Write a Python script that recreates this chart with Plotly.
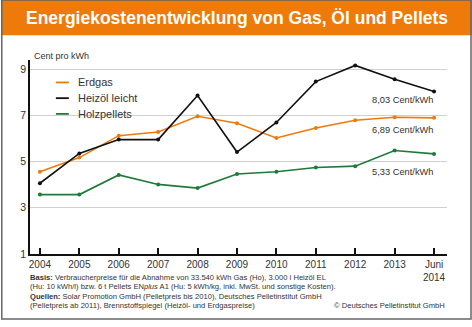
import plotly.graph_objects as go

years = ["2004", "2005", "2006", "2007", "2008", "2009", "2010", "2011", "2012", "2013", "Juni<br>2014"]
erdgas = [4.56, 5.17, 6.12, 6.28, 6.96, 6.66, 6.02, 6.45, 6.79, 6.92, 6.89]
heizoel = [4.06, 5.35, 5.95, 5.95, 7.86, 5.41, 6.69, 8.46, 9.16, 8.56, 8.03]
pellets = [3.57, 3.57, 4.42, 4.01, 3.85, 4.46, 4.56, 4.74, 4.80, 5.48, 5.33]
series_names = ["Erdgas", "Heizöl leicht", "Holzpellets"]
end_labels = ["6,89 Cent/kWh", "8,03 Cent/kWh", "5,33 Cent/kWh"]
y_ticks = [1, 3, 5, 7, 9]

W, H = 472, 327
ORANGE = "#EE7A0A"
BLACK = "#111111"
GREEN = "#1F7A3A"
TXT = "#333333"
FONT = "Liberation Sans, Arial, sans-serif"

def px(x):
    return x / W

def py(y):
    return 1 - y / H

xs = list(range(len(years)))
fig = go.Figure()
for vals, col in [(pellets, GREEN), (erdgas, ORANGE), (heizoel, BLACK)]:
    fig.add_trace(go.Scatter(x=xs, y=vals, mode="lines+markers",
                             line=dict(color=col, width=1.6),
                             marker=dict(color=col, size=4), showlegend=False,
                             hoverinfo="skip"))

fig.update_layout(
    width=W, height=H, margin=dict(l=0, r=0, t=0, b=0),
    paper_bgcolor="white", plot_bgcolor="white",
    font=dict(family=FONT, color=TXT),
    xaxis=dict(domain=[px(29), px(447)], range=[-0.253, 10.33],
               tickvals=xs, ticktext=years, ticks="inside", ticklen=6,
               tickcolor=BLACK, tickwidth=1.5,
               showline=True, linecolor=BLACK, linewidth=1.5, showgrid=False,
               zeroline=False, tickfont=dict(size=10, color=TXT, family=FONT)),
    yaxis=dict(domain=[py(258.7), py(61)], range=[1, 9.4],
               tickvals=y_ticks, ticks="", showline=True, linecolor=BLACK,
               linewidth=1.5, showgrid=True, gridcolor="#d0d0d0", gridwidth=1,
               zeroline=False, tickfont=dict(size=10.5, color=TXT, family=FONT)),
)

shapes = []
annots = []
# title banner
shapes.append(dict(type="rect", xref="paper", yref="paper", x0=0, x1=1,
                   y0=py(36), y1=1, fillcolor=ORANGE, line=dict(width=0), layer="below"))
# frame
shapes.append(dict(type="rect", xref="paper", yref="paper", x0=px(0.8), x1=px(471),
                   y0=py(325), y1=py(0), fillcolor="rgba(0,0,0,0)",
                   line=dict(color="#666666", width=1.5)))
annots.append(dict(xref="paper", yref="paper", x=px(236), y=py(18),
                   text="<b>Energiekostenentwicklung von Gas, Öl und Pellets</b>",
                   showarrow=False, xanchor="center", yanchor="middle",
                   font=dict(size=17.5, color="white", family=FONT)))
annots.append(dict(xref="paper", yref="paper", x=px(31), y=py(57.5),
                   text="Cent pro kWh", showarrow=False, xanchor="left", yanchor="middle",
                   font=dict(size=9, color=TXT)))

# legend (manual)
shapes.append(dict(type="rect", xref="paper", yref="paper", x0=px(53), x1=px(143),
                   y0=py(125), y1=py(74), fillcolor="white", line=dict(width=0),
                   layer="between"))
for i, (name, col) in enumerate(zip(series_names, [ORANGE, BLACK, GREEN])):
    yy = 84 + i * 16
    shapes.append(dict(type="line", xref="paper", yref="paper", x0=px(55), x1=px(68),
                       y0=py(yy), y1=py(yy), line=dict(color=col, width=1.8)))
    annots.append(dict(xref="paper", yref="paper", x=px(75), y=py(yy), text=name,
                       showarrow=False, xanchor="left", yanchor="middle",
                       font=dict(size=11, color=TXT)))

# end labels
for lab, yy in zip(end_labels, [132, 101.7, 175]):
    annots.append(dict(xref="paper", yref="paper", x=px(436), y=py(yy), text=lab,
                       showarrow=False, xanchor="right", yanchor="middle",
                       font=dict(size=9.3, color=TXT)))

footer = [
    "<b>Basis:</b> Verbraucherpreise für die Abnahme von 33.540 kWh Gas (Ho), 3.000 l Heizöl EL",
    "(Hu: 10 kWh/l) bzw. 6 t Pellets EN<i>plus</i> A1 (Hu: 5 kWh/kg, inkl. MwSt. und sonstige Kosten).",
    "<b>Quellen:</b> Solar Promotion GmbH (Pelletpreis bis 2010), Deutsches Pelletinstitut GmbH",
    "(Pelletpreis ab 2011), Brennstoffspiegel (Heizöl- und Erdgaspreise)",
]
for i, line in enumerate(footer):
    annots.append(dict(xref="paper", yref="paper", x=px(27), y=py(283 + i * 9.3),
                       text=line, showarrow=False, xanchor="left", yanchor="middle",
                       font=dict(size=7.6, color=TXT)))
annots.append(dict(xref="paper", yref="paper", x=px(447), y=py(311),
                   text="© Deutsches Pelletinstitut GmbH", showarrow=False,
                   xanchor="right", yanchor="middle", font=dict(size=7.6, color=TXT)))

fig.update_layout(shapes=shapes, annotations=annots)
fig.write_html("out.html")
